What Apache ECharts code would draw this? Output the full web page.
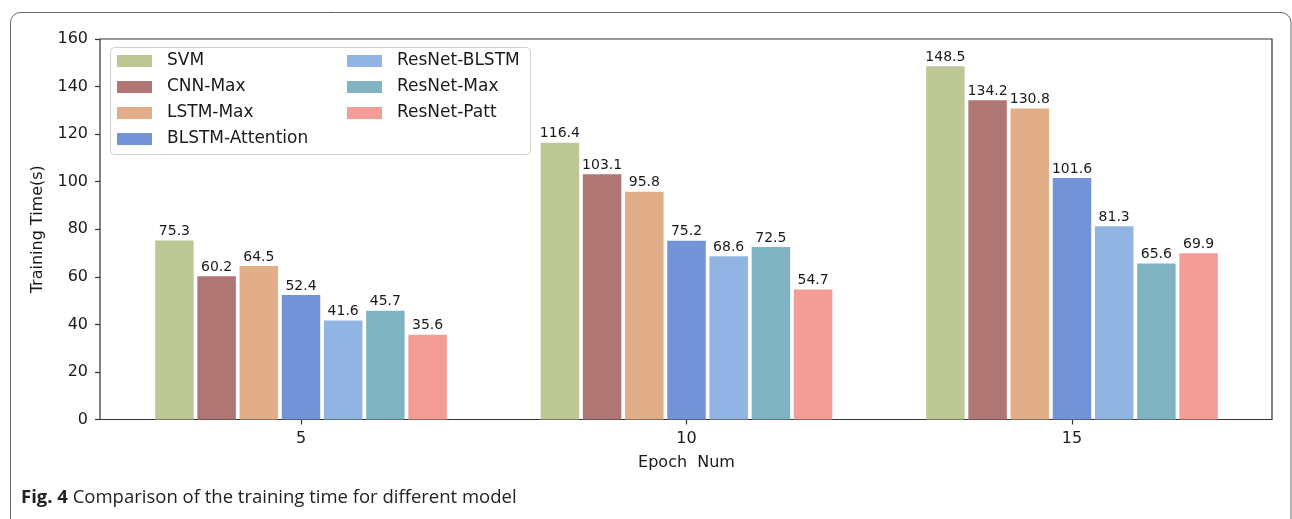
<!DOCTYPE html>
<html>
<head>
<meta charset="utf-8">
<script src="https://cdn.jsdelivr.net/npm/echarts@6/dist/echarts.min.js"></script>
<style>html,body{margin:0;padding:0;background:#fff;}#chart{width:1292px;height:519px;}</style>
</head>
<body>
<div id="chart"></div>
<script>
const categories = ['5', '10', '15'];
const seriesNames = ['SVM', 'CNN-Max', 'LSTM-Max', 'BLSTM-Attention', 'ResNet-BLSTM', 'ResNet-Max', 'ResNet-Patt'];
const svm = [75.3, 116.4, 148.5];
const cnnMax = [60.2, 103.1, 134.2];
const lstmMax = [64.5, 95.8, 130.8];
const blstmAttention = [52.4, 75.2, 101.6];
const resnetBlstm = [41.6, 68.6, 81.3];
const resnetMax = [45.7, 72.5, 65.6];
const resnetPatt = [35.6, 54.7, 69.9];
const colors = ['#bcc795', '#b07674', '#e2ae88', '#7492d8', '#91b4e2', '#80b4c2', '#f49d96'];
const yTicks = [0, 20, 40, 60, 80, 100, 120, 140, 160];

const allValues = [svm, cnnMax, lstmMax, blstmAttention, resnetBlstm, resnetMax, resnetPatt];
const FONT = 'DejaVu Sans';

const chart = echarts.init(document.getElementById('chart'), null, {renderer: 'canvas'});
const series = seriesNames.map((name, i) => ({
  name: name,
  type: 'bar',
  xAxisIndex: 1,
  yAxisIndex: 1,
  data: allValues[i],
  barWidth: 38.5,
  barGap: '9.6%',
  itemStyle: {color: colors[i]},
  label: {
    show: true,
    position: 'top',
    distance: 2,
    fontFamily: FONT,
    fontSize: 14,
    color: '#1a1a1a',
    formatter: p => p.value.toFixed(1)
  },
  emphasis: {disabled: true},
  animation: false
}));

const option = {
  animation: false,
  backgroundColor: '#ffffff',
  grid: [
    {left: 100, width: 1172, top: 39, height: 380.5, show: true, borderColor: '#333', borderWidth: 1.2, backgroundColor: 'transparent'},
    {left: 108.25, width: 1156.5, top: 39, height: 380.5}
  ],
  xAxis: [
    {gridIndex: 0, type: 'value', min: 0, max: 1, show: false},
    {
      gridIndex: 1, type: 'category', data: categories,
      axisLine: {show: false},
      axisTick: {show: true, alignWithLabel: true, length: 5, lineStyle: {color: '#333', width: 1.2}},
      axisLabel: {fontFamily: FONT, fontSize: 16, color: '#1a1a1a', margin: 11},
      name: 'Epoch  Num', nameLocation: 'middle', nameGap: 35,
      nameTextStyle: {fontFamily: FONT, fontSize: 16, color: '#1a1a1a'}
    }
  ],
  yAxis: [
    {
      gridIndex: 0, type: 'value', min: 0, max: 160, interval: 20,
      axisLine: {show: false},
      axisTick: {show: true, length: 5, lineStyle: {color: '#333', width: 1.2}},
      axisLabel: {fontFamily: FONT, fontSize: 16, color: '#1a1a1a', margin: 12, formatter: v => yTicks.includes(v) ? String(v) : ''},
      splitLine: {show: false},
      name: 'Training Time(s)', nameLocation: 'middle', nameGap: 54, nameRotate: 90,
      nameTextStyle: {fontFamily: FONT, fontSize: 16, color: '#1a1a1a'}
    },
    {gridIndex: 1, type: 'value', min: 0, max: 160, interval: 20, show: false, splitLine: {show: false}}
  ],
  legend: [
    {
      data: seriesNames.slice(0, 4), orient: 'vertical', left: 117, top: 52, padding: 0,
      icon: 'rect', itemWidth: 35, itemHeight: 12, itemGap: 8,
      textStyle: {fontFamily: FONT, fontSize: 17, color: '#1a1a1a', lineHeight: 18, padding: [0, 0, 0, 10]},
      selectedMode: false, z: 10
    },
    {
      data: seriesNames.slice(4), orient: 'vertical', left: 347, top: 52, padding: 0,
      icon: 'rect', itemWidth: 35, itemHeight: 12, itemGap: 8,
      textStyle: {fontFamily: FONT, fontSize: 17, color: '#1a1a1a', lineHeight: 18, padding: [0, 0, 0, 10]},
      selectedMode: false, z: 10
    }
  ],
  graphic: [
    {type: 'rect', z: 0, silent: true, shape: {x: 10.5, y: 12.5, width: 1280.5, height: 530, r: 10},
      style: {fill: 'none', stroke: '#666', lineWidth: 1}},
    {type: 'rect', z: 5, silent: true, shape: {x: 110.5, y: 47.5, width: 420, height: 107, r: 4},
      style: {fill: 'rgba(255,255,255,0.85)', stroke: '#d0d0d0', lineWidth: 1}},
    {type: 'text', z: 5, silent: true, left: 21, top: 488,
      style: {
        text: '{b|Fig. 4} Comparison of the training time for different model',
        fontFamily: 'Open Sans', fontSize: 18.5, fill: '#222',
        rich: {b: {fontFamily: 'Open Sans', fontSize: 18.5, fontWeight: 'bold', fill: '#222'}}
      }}
  ],
  series: series
};
chart.setOption(option);
</script>
</body>
</html>
